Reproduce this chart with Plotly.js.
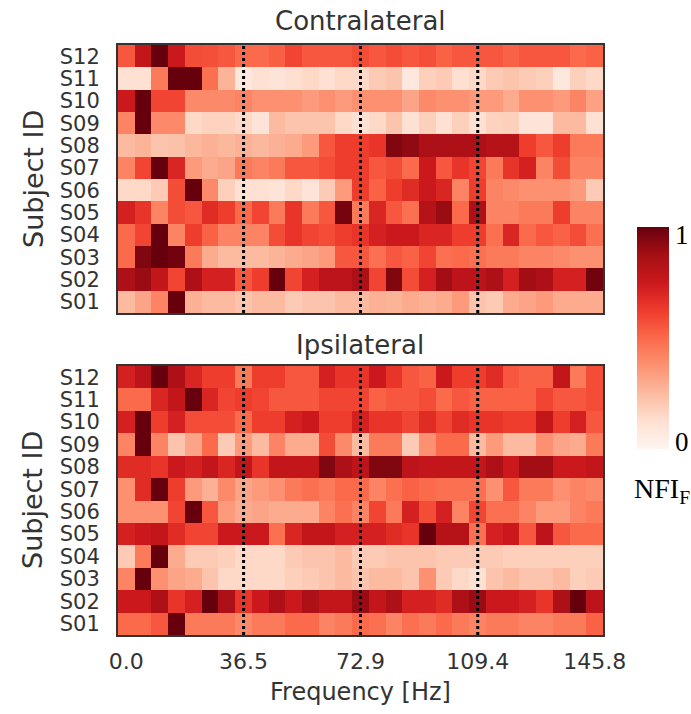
<!DOCTYPE html>
<html>
<head>
<meta charset="utf-8">
<script src="https://cdn.plot.ly/plotly-3.0.1.min.js"></script>
<style>html,body{margin:0;padding:0;background:#fff;}#plot{width:691px;height:714px;}</style>
</head>
<body>
<div id="plot"></div>
<script>
// Frequency bins (Hz), 29 columns
const freqs = [0.0, 5.2, 10.4, 15.6, 20.8, 26.0, 31.2, 36.5, 41.7, 46.9, 52.1, 57.3, 62.5, 67.7, 72.9,
               78.1, 83.3, 88.5, 93.7, 98.9, 104.1, 109.4, 114.6, 119.8, 125.0, 130.2, 135.4, 140.6, 145.8];
// Tick labels on the frequency axis, and frequencies marked with dotted lines
const tickFreqs = [0.0, 36.5, 72.9, 109.4, 145.8];
const tickLabels = ["0.0", "36.5", "72.9", "109.4", "145.8"];
const markedFreqs = [36.5, 72.9, 109.4];
// Subjects, listed top to bottom
const subjects = ["S12", "S11", "S10", "S09", "S08", "S07", "S06", "S05", "S04", "S03", "S02", "S01"];
// Colour bar end labels
const cbarLabels = ["0", "1"];

// Contralateral NFI_F, rows in the order of `subjects`
const contraNFI = [
  [0.55,0.78,1.00,0.75,0.58,0.57,0.55,0.50,0.50,0.53,0.60,0.55,0.55,0.55, 0.58,0.55,0.58,0.55,0.57,0.52,0.55,0.55,0.55,0.52,0.55,0.55,0.55,0.50,0.52],
  [0.12,0.12,0.45,1.00,1.00,0.48,0.27,0.08,0.12,0.10,0.13,0.15,0.12,0.15, 0.15,0.20,0.22,0.08,0.18,0.20,0.13,0.15,0.20,0.22,0.20,0.18,0.08,0.18,0.15],
  [0.75,1.00,0.60,0.60,0.40,0.40,0.40,0.42,0.38,0.38,0.38,0.35,0.38,0.35, 0.38,0.38,0.38,0.32,0.40,0.38,0.38,0.35,0.35,0.30,0.38,0.38,0.35,0.42,0.33],
  [0.42,1.00,0.40,0.40,0.15,0.17,0.17,0.15,0.10,0.25,0.22,0.22,0.22,0.15, 0.12,0.15,0.22,0.12,0.18,0.12,0.18,0.12,0.17,0.18,0.10,0.10,0.25,0.25,0.12],
  [0.25,0.27,0.22,0.23,0.26,0.28,0.26,0.28,0.26,0.28,0.30,0.35,0.55,0.62, 0.62,0.65,0.95,0.92,0.85,0.85,0.85,0.85,0.82,0.82,0.62,0.55,0.62,0.45,0.45],
  [0.42,0.60,1.00,0.70,0.35,0.30,0.32,0.45,0.42,0.45,0.55,0.55,0.58,0.62, 0.62,0.55,0.58,0.50,0.75,0.55,0.65,0.60,0.45,0.65,0.72,0.42,0.58,0.42,0.42],
  [0.15,0.15,0.20,0.58,1.00,0.40,0.18,0.12,0.12,0.10,0.15,0.10,0.20,0.35, 0.62,0.52,0.62,0.68,0.75,0.70,0.42,0.62,0.42,0.40,0.38,0.38,0.38,0.35,0.20],
  [0.72,0.65,0.42,0.58,0.55,0.68,0.62,0.50,0.60,0.45,0.65,0.45,0.55,0.97, 0.45,0.70,0.55,0.48,0.82,0.90,0.50,0.85,0.42,0.42,0.45,0.45,0.62,0.42,0.42],
  [0.50,0.60,1.00,0.42,0.62,0.52,0.42,0.42,0.42,0.58,0.65,0.60,0.58,0.62, 0.65,0.72,0.75,0.75,0.70,0.70,0.62,0.62,0.48,0.70,0.50,0.55,0.52,0.58,0.48],
  [0.50,0.95,1.00,0.98,0.45,0.30,0.25,0.25,0.25,0.27,0.30,0.32,0.35,0.55, 0.55,0.48,0.55,0.52,0.60,0.48,0.50,0.48,0.45,0.45,0.42,0.42,0.40,0.38,0.38],
  [0.85,0.90,0.78,0.60,0.85,0.72,0.72,0.55,0.62,1.00,0.60,0.72,0.80,0.80, 0.85,0.60,0.95,0.58,0.72,0.88,0.80,0.80,0.85,0.72,0.88,0.85,0.72,0.72,0.98],
  [0.25,0.32,0.42,1.00,0.28,0.25,0.25,0.22,0.25,0.25,0.20,0.22,0.22,0.25, 0.25,0.28,0.27,0.30,0.28,0.30,0.35,0.22,0.20,0.30,0.32,0.35,0.30,0.30,0.30]
];

// Ipsilateral NFI_F, rows in the order of `subjects`
const ipsiNFI = [
  [0.72,0.80,1.00,0.85,0.70,0.62,0.62,0.45,0.62,0.62,0.55,0.55,0.72,0.65, 0.65,0.75,0.65,0.55,0.52,0.75,0.62,0.62,0.68,0.55,0.52,0.52,0.78,0.45,0.58],
  [0.50,0.50,0.70,0.78,1.00,0.70,0.60,0.62,0.60,0.55,0.55,0.55,0.60,0.60, 0.60,0.52,0.55,0.55,0.58,0.50,0.55,0.52,0.52,0.52,0.52,0.60,0.55,0.55,0.58],
  [0.72,1.00,0.62,0.72,0.58,0.58,0.58,0.50,0.62,0.62,0.72,0.75,0.62,0.62, 0.72,0.65,0.65,0.60,0.68,0.60,0.68,0.65,0.65,0.62,0.62,0.78,0.62,0.72,0.55],
  [0.42,1.00,0.42,0.22,0.32,0.50,0.20,0.35,0.25,0.42,0.30,0.30,0.58,0.40, 0.25,0.45,0.45,0.20,0.38,0.50,0.50,0.25,0.35,0.25,0.25,0.38,0.32,0.30,0.45],
  [0.68,0.68,0.65,0.75,0.72,0.78,0.70,0.78,0.65,0.78,0.78,0.78,0.95,0.85, 0.80,0.95,0.95,0.80,0.78,0.78,0.78,0.78,0.85,0.75,0.88,0.88,0.75,0.75,0.78],
  [0.38,0.68,1.00,0.62,0.35,0.28,0.40,0.32,0.35,0.38,0.45,0.48,0.45,0.50, 0.50,0.42,0.48,0.52,0.50,0.48,0.48,0.48,0.38,0.55,0.45,0.45,0.38,0.42,0.40],
  [0.38,0.38,0.38,0.60,1.00,0.55,0.35,0.30,0.32,0.30,0.30,0.30,0.42,0.48, 0.42,0.60,0.45,0.72,0.58,0.72,0.42,0.60,0.48,0.48,0.42,0.35,0.35,0.42,0.45],
  [0.72,0.75,0.78,0.68,0.60,0.60,0.75,0.75,0.75,0.48,0.70,0.78,0.78,0.72, 0.72,0.72,0.68,0.65,1.00,0.82,0.82,0.48,0.72,0.75,0.55,0.80,0.55,0.50,0.50],
  [0.20,0.45,1.00,0.30,0.20,0.20,0.18,0.15,0.15,0.15,0.20,0.22,0.22,0.25, 0.20,0.20,0.22,0.22,0.22,0.20,0.20,0.20,0.20,0.18,0.18,0.18,0.18,0.18,0.18],
  [0.42,1.00,0.38,0.32,0.30,0.22,0.15,0.15,0.15,0.15,0.18,0.20,0.22,0.25, 0.22,0.25,0.25,0.22,0.38,0.20,0.15,0.12,0.22,0.25,0.22,0.22,0.25,0.18,0.20],
  [0.75,0.75,0.85,0.65,0.72,1.00,0.85,0.65,0.75,0.85,0.75,0.85,0.78,0.78, 0.90,0.78,0.85,0.72,0.72,0.68,0.85,0.90,0.75,0.75,0.72,0.65,0.85,1.00,0.80],
  [0.50,0.50,0.55,1.00,0.45,0.45,0.45,0.40,0.45,0.45,0.50,0.50,0.42,0.45, 0.50,0.48,0.42,0.48,0.45,0.50,0.45,0.42,0.45,0.45,0.42,0.42,0.45,0.45,0.52]
];

// matplotlib "Reds" colormap
const reds = [
  [0.0, "#fff5f0"], [0.125, "#fee0d2"], [0.25, "#fcbba1"], [0.375, "#fc9272"],
  [0.5, "#fb6a4a"], [0.625, "#ef3b2c"], [0.75, "#cb181d"], [0.875, "#a50f15"], [1.0, "#67000d"]
];

const W = 691, H = 714;
const px = (a, b) => [a / W, b / W];
const py = (top, bottom) => [1 - bottom / H, 1 - top / H];

const textColor = "#333333";
const font = "DejaVu Sans, sans-serif";

const traces = [
  {type: "heatmap", x: freqs, y: subjects, z: contraNFI, coloraxis: "coloraxis", xaxis: "x", yaxis: "y"},
  {type: "heatmap", x: freqs, y: subjects, z: ipsiNFI, coloraxis: "coloraxis", xaxis: "x2", yaxis: "y2"}
];

const frame = {showline: true, mirror: true, linecolor: "#333333", linewidth: 2, showgrid: false, zeroline: false};
const xRange = [freqs[0] - (freqs[1] - freqs[0]) / 2, freqs[freqs.length - 1] + (freqs[1] - freqs[0]) / 2];

const shapes = [];
["x", "x2"].forEach((xa, i) => {
  const ya = i === 0 ? "y" : "y2";
  markedFreqs.forEach(f => shapes.push({
    type: "line", xref: xa, yref: ya + " domain", x0: f, x1: f, y0: 0, y1: 1,
    line: {color: "#000000", width: 3, dash: "dot"}
  }));
});

const yCommon = {type: "category", autorange: "reversed", ticks: "", tickmode: "array", tickvals: subjects, ticktext: subjects, ticklabelstandoff: 12, tickfont: {size: 21}, automargin: false};

// colour-bar labels sit just inside the bar ends (top of "1" level with the bar top, bottom of "0" with its bottom)
const cbInset = 0.034;

const layout = {
  width: W, height: H,
  margin: {l: 0, r: 0, t: 0, b: 0, autoexpand: false},
  paper_bgcolor: "#ffffff", plot_bgcolor: "#ffffff",
  font: {family: font, color: textColor, size: 22},
  showlegend: false,
  xaxis: Object.assign({domain: px(118, 603), range: xRange, anchor: "y", showticklabels: false, ticks: "", automargin: false}, frame),
  yaxis: Object.assign({domain: py(45, 313), anchor: "x"}, yCommon, frame),
  xaxis2: Object.assign({domain: px(118, 603), range: xRange, anchor: "y2", tickmode: "array", tickvals: tickFreqs, ticktext: tickLabels, ticks: "", ticklabelstandoff: 6, tickfont: {size: 22}, automargin: false}, frame),
  yaxis2: Object.assign({domain: py(366, 635), anchor: "x2"}, yCommon, frame),
  coloraxis: {
    cmin: 0, cmax: 1, colorscale: reds,
    colorbar: {
      x: 637 / W, xanchor: "left", y: 1 - 338 / H, yanchor: "middle", xpad: 0, ypad: 0,
      thickness: 32, thicknessmode: "pixels", len: 222, lenmode: "pixels",
      outlinewidth: 0, ticks: "", tickmode: "array", tickvals: [cbInset, 1 - cbInset], ticktext: cbarLabels,
      tickfont: {family: "Liberation Serif, serif", size: 27, color: "#000000"}, ticklabelpad: 3
    }
  },
  shapes: shapes,
  annotations: [
    {text: "Contralateral", x: 360 / W, y: 1 - 21 / H, xref: "paper", yref: "paper", showarrow: false, xanchor: "center", yanchor: "middle", font: {size: 26}},
    {text: "Ipsilateral", x: 360 / W, y: 1 - 345 / H, xref: "paper", yref: "paper", showarrow: false, xanchor: "center", yanchor: "middle", font: {size: 26}},
    {text: "Subject ID", x: 33 / W, y: 1 - 179 / H, xref: "paper", yref: "paper", showarrow: false, textangle: -90, xanchor: "center", yanchor: "middle", font: {size: 27}},
    {text: "Subject ID", x: 33 / W, y: 1 - 500 / H, xref: "paper", yref: "paper", showarrow: false, textangle: -90, xanchor: "center", yanchor: "middle", font: {size: 27}},
    {text: "Frequency [Hz]", x: 360 / W, y: 1 - 692 / H, xref: "paper", yref: "paper", showarrow: false, xanchor: "center", yanchor: "middle", font: {size: 24}},
    {text: "NFI<sub>F</sub>", x: 662 / W, y: 1 - 490 / H, xref: "paper", yref: "paper", showarrow: false, xanchor: "center", yanchor: "middle", font: {family: "Liberation Serif, serif", size: 28, color: "#000000"}}
  ]
};

Plotly.newPlot("plot", traces, layout, {staticPlot: true, displayModeBar: false});
</script>
</body>
</html>
